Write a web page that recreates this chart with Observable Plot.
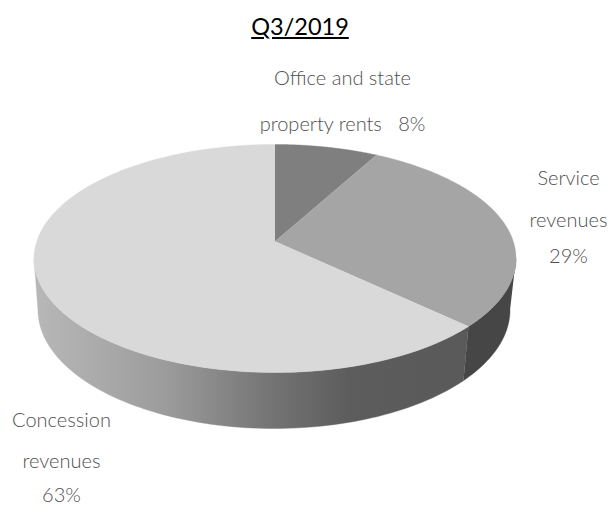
<!DOCTYPE html>
<html>
<head>
<meta charset="utf-8">
<script src="https://cdn.jsdelivr.net/npm/d3@7"></script>
<script src="https://cdn.jsdelivr.net/npm/@observablehq/plot@0.6"></script>
<style>
  html, body { margin: 0; padding: 0; background: #fff; }
  #title { height: 44px; width: 600px; text-align: center; font: 23.5px Lato, sans-serif; color: #000;
           text-decoration: underline; line-height: 53px; }
  svg { display: block; }
</style>
</head>
<body>
<div id="title">Q3/2019</div>
<div id="chart"></div>
<script>
const categories = ["Office and state property rents", "Service revenues", "Concession revenues"];
const shares = [8, 29, 63];
const topColors = ["#7f7f7f", "#a5a5a5", "#d9d9d9"];
const line1 = ["Office and state", "Service", "Concession"];
const line2 = ["property rents\u00a0\u00a0 8%", "revenues", "revenues"];
const line3 = ["", "29%", "63%"];

const titleH = 44;
const K = 0.149;
const topDisc = {cx: 274.5, cy: 241, a: 111.5, b: 238.3};
const baseDisc = {cx: 273.5, cy: 291.7, a: 116, b: 233.4};
const project = (disc, t) => {
  const u = Math.sin(t), v = Math.cos(t), d = 1 + K * v;
  return {x: disc.cx + disc.b * u / d, y: disc.cy - disc.a * v / d};
};
const STEPS = 90;
const arc = (disc, t0, t1) => d3.range(0, STEPS + 1).map(i => project(disc, t0 + (t1 - t0) * i / STEPS));

const cum = d3.cumsum(shares);
const total = d3.sum(shares);
const wedges = categories.map((c, i) => ({
  category: c,
  t0: (i ? cum[i - 1] : 0) / total * 2 * Math.PI,
  t1: cum[i] / total * 2 * Math.PI,
  color: topColors[i]
}));

// Angles at which the disc's outline turns vertical: only the wall between them faces the viewer.
const rightEdge = Math.acos(-K);
const leftEdge = 2 * Math.PI - Math.acos(-K);

const faces = wedges.map(w => [{x: topDisc.cx, y: topDisc.cy}, ...arc(topDisc, w.t0, w.t1)]);
const wallFills = ["#5a5a5a", "#464646", "url(#concessionWall)"];
const walls = wedges.map((w, i) => {
  const a = Math.max(w.t0, rightEdge), b = Math.min(w.t1, leftEdge);
  return a < b ? {pts: [...arc(topDisc, a, b), ...arc(baseDisc, b, a)], fill: wallFills[i]} : null;
}).filter(Boolean);

const gradient = () => {
  const NS = "http://www.w3.org/2000/svg";
  const defs = document.createElementNS(NS, "defs");
  const g = document.createElementNS(NS, "linearGradient");
  g.setAttribute("id", "concessionWall");
  g.setAttribute("gradientUnits", "userSpaceOnUse");
  g.setAttribute("x1", 33); g.setAttribute("x2", 470);
  g.setAttribute("y1", 0); g.setAttribute("y2", 0);
  [[0, "#b8b8b8"], [0.3, "#9c9c9c"], [0.55, "#737373"], [0.72, "#5d5d5d"], [1, "#595959"]].forEach(([o, c]) => {
    const s = document.createElementNS(NS, "stop");
    s.setAttribute("offset", o); s.setAttribute("stop-color", c);
    g.appendChild(s);
  });
  defs.appendChild(g);
  return defs;
};

const textStyle = {fontFamily: "Lato, sans-serif", fontSize: 20, fill: "#505050", fontWeight: 300};
const labelAt = [
  {x: 342, ys: [78, 124, null]},
  {x: 568, ys: [178, 220, 256]},
  {x: 61, ys: [420, 461, 495]}
];
const labelRows = [line1, line2, line3].flatMap((row, r) =>
  row.map((text, i) => ({text, x: labelAt[i].x, y: labelAt[i].ys[r]})).filter(d => d.text));

const chart = Plot.plot({
  width: 613, height: 507 - titleH,
  margin: 0,
  x: {domain: [0, 613], range: [0, 613], axis: null},
  y: {domain: [titleH, 507], range: [0, 507 - titleH], axis: null},
  marks: [
    gradient,
    ...walls.map(w => Plot.line(w.pts, {x: "x", y: "y", fill: w.fill, stroke: w.fill, strokeWidth: 0.4})),
    ...faces.map((pts, i) => Plot.line(pts, {x: "x", y: "y", fill: wedges[i].color, stroke: wedges[i].color, strokeWidth: 0.4})),
    Plot.text(labelRows, {x: "x", y: "y", text: "text", ...textStyle})
  ]
});
document.getElementById("chart").appendChild(chart);
</script>
</body>
</html>
